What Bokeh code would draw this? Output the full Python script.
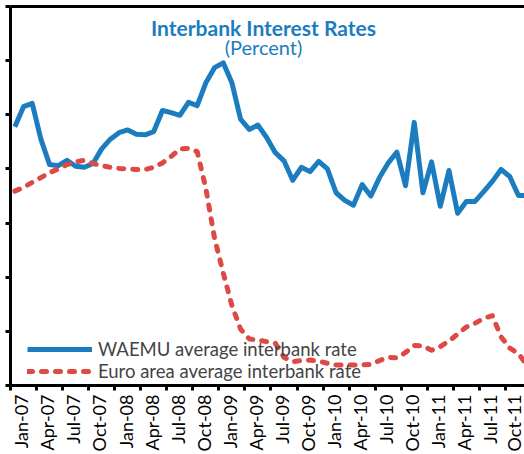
import numpy as np
from bokeh.plotting import figure
from bokeh.models import FixedTicker, LinearAxis, Legend, LegendItem, Label, Range1d
from bokeh.embed import file_html
from bokeh.resources import INLINE

# Monthly observations, Jan-07 .. Dec-11
months = [f"{m}-{y:02d}" for y in range(7, 12)
          for m in ["Jan", "Feb", "Mar", "Apr", "May", "Jun",
                    "Jul", "Aug", "Sep", "Oct", "Nov", "Dec"]]

waemu = [4.78, 5.15, 5.21, 4.55, 4.08, 4.06, 4.16, 4.05, 4.03, 4.10,
         4.37, 4.55, 4.67, 4.72, 4.64, 4.63, 4.69, 5.08, 5.04, 4.99,
         5.23, 5.17, 5.59, 5.87, 5.96, 5.59, 4.92, 4.73, 4.81, 4.58,
         4.30, 4.15, 3.79, 4.03, 3.95, 4.14, 4.00, 3.56, 3.42, 3.33,
         3.71, 3.50, 3.84, 4.11, 4.31, 3.69, 4.86, 3.56, 4.13, 3.31,
         3.97, 3.18, 3.40, 3.40, 3.58, 3.77, 3.99, 3.86, 3.51, 3.51]

euro = [3.59, 3.66, 3.75, 3.84, 3.93, 4.00, 4.08, 4.13, 4.16, 4.10,
        4.06, 4.03, 4.01, 4.00, 3.99, 3.99, 4.03, 4.11, 4.23, 4.37,
        4.38, 4.32, 3.64, 2.72, 2.08, 1.48, 1.04, 0.86, 0.84, 0.81,
        0.78, 0.52, 0.44, 0.46, 0.47, 0.45, 0.41, 0.38, 0.38, 0.38,
        0.38, 0.39, 0.46, 0.52, 0.51, 0.61, 0.74, 0.73, 0.65, 0.72,
        0.82, 0.95, 1.08, 1.15, 1.24, 1.29, 0.90, 0.69, 0.59, 0.37]

tick_labels = ["Jan-07", "Apr-07", "Jul-07", "Oct-07", "Jan-08", "Apr-08",
               "Jul-08", "Oct-08", "Jan-09", "Apr-09", "Jul-09", "Oct-09",
               "Jan-10", "Apr-10", "Jul-10", "Oct-10", "Jan-11", "Apr-11",
               "Jul-11", "Oct-11"]

y_ticks = [0, 1, 2, 3, 4, 5, 6, 7]

BLUE = "#1B7DC0"
RED = "#DC4A45"
FONT = "Lato"

x = list(range(len(months)))

p = figure(width=524, height=454, x_range=Range1d(-0.5, 58.7), y_range=Range1d(0, 7),
           output_backend="svg", toolbar_location=None,
           min_border_left=10, min_border_right=0, min_border_top=6, min_border_bottom=65)
p.xgrid.visible = False
p.ygrid.visible = False
p.outline_line_color = None
p.background_fill_color = "white"
p.border_fill_color = "white"

# y axis: tick marks only (no labels in the reference)
yax = p.yaxis[0]
yax.ticker = FixedTicker(ticks=[], minor_ticks=y_ticks)
yax.major_tick_out = 0
yax.major_tick_in = 0
yax.major_label_standoff = 0
yax.minor_tick_out = 5
yax.minor_tick_in = 0
yax.minor_tick_line_width = 3
yax.minor_tick_line_color = "black"
yax.axis_line_width = 3
yax.axis_line_color = "black"

# x axis: tick marks at quarter boundaries, labels between
label_pos = [3 * k + 0.75 for k in range(len(tick_labels))]
bound_pos = [3 * k - 0.5 for k in range(len(tick_labels) + 1)]
xax = p.xaxis[0]
xax.ticker = FixedTicker(ticks=label_pos, minor_ticks=bound_pos)
xax.major_label_overrides = {pos: lab for pos, lab in zip(label_pos, tick_labels)}
xax.major_tick_line_color = None
xax.major_tick_out = 5
xax.major_tick_in = 0
xax.minor_tick_out = 5
xax.minor_tick_in = 0
xax.minor_tick_line_width = 3
xax.minor_tick_line_color = "black"
xax.axis_line_width = 3
xax.axis_line_color = "black"
xax.major_label_orientation = np.pi / 2
xax.major_label_text_font = FONT
xax.major_label_text_font_size = "18px"
xax.major_label_text_color = "black"
xax.major_label_standoff = 4

# top border line
top = LinearAxis(ticker=FixedTicker(ticks=[]), axis_line_width=3, axis_line_color="black",
                 major_label_standoff=0, major_tick_out=0, major_tick_in=0,
                 minor_tick_out=0, minor_tick_in=0,
                 major_tick_line_color=None, minor_tick_line_color=None)
p.add_layout(top, "above")

r1 = p.line(x, waemu, line_color=BLUE, line_width=5, line_join="round")
r2 = p.line(x, euro, line_color=RED, line_width=5, line_dash="5 9", line_cap="round",
            line_join="round")

legend = Legend(items=[LegendItem(label="WAEMU average interbank rate", renderers=[r1]),
                       LegendItem(label="Euro area average interbank rate", renderers=[r2])],
                location=(17, 3), padding=0, margin=0, spacing=0,
                glyph_width=65, glyph_height=20, label_height=20, label_standoff=6,
                label_text_font=FONT, label_text_font_size="18.5px",
                border_line_color=None, background_fill_alpha=0)
p.add_layout(legend)

t1 = Label(x=253, y=358, x_units="screen", y_units="screen",
           text="Interbank Interest Rates", text_align="center", text_baseline="middle",
           text_font=FONT, text_font_style="bold", text_font_size="21px", text_color=BLUE)
t2 = Label(x=253, y=339, x_units="screen", y_units="screen",
           text="(Percent)", text_align="center", text_baseline="middle",
           text_font=FONT, text_font_size="20px", text_color=BLUE)
p.add_layout(t1)
p.add_layout(t2)

open("out.html", "w").write(file_html(p, INLINE))
